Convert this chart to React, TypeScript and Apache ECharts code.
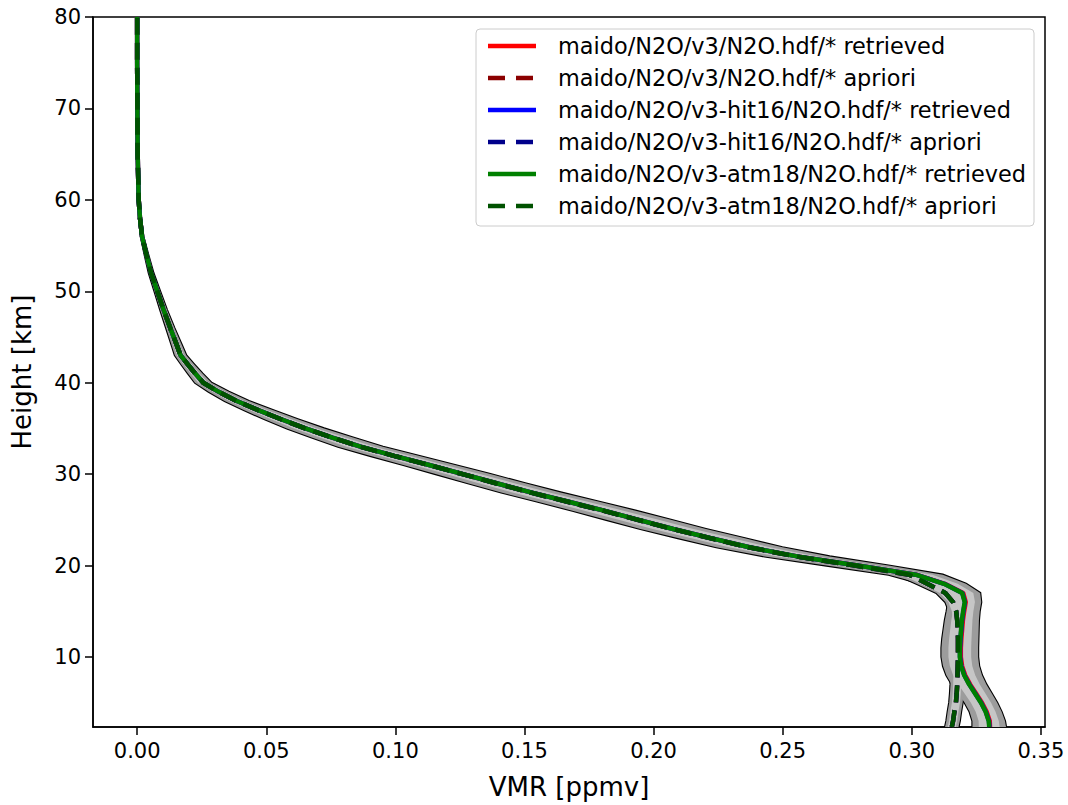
import React, { useEffect, useRef } from 'react';
import * as echarts from 'echarts';

// Heights [km]
const heights = [2.34, 3, 4, 5, 6, 7, 8, 9, 10, 11, 12, 13, 14, 15, 16, 17, 18, 19, 20, 21, 22, 23, 24, 25, 26, 27, 28, 29, 30, 31, 32, 33, 34, 35, 36, 37, 38, 39, 40, 41, 42, 43, 44, 46, 48, 50, 52, 54, 56, 58, 60, 65, 70, 75, 80];

// a priori VMR [ppmv] (same for all three runs)
const apriori = [0.3155, 0.3160, 0.3165, 0.3171, 0.3174, 0.3176, 0.3177, 0.3178, 0.3179, 0.3179, 0.3179, 0.3178, 0.3176, 0.3172, 0.3160, 0.3130, 0.3060, 0.2990, 0.2780, 0.2550, 0.2367, 0.2218, 0.2072, 0.1938, 0.1804, 0.1663, 0.1521, 0.1389, 0.1260, 0.1129, 0.0994, 0.0863, 0.0754, 0.0650, 0.0557, 0.0468, 0.0385, 0.0315, 0.0256, 0.0225, 0.0196, 0.0168, 0.0155, 0.0128, 0.0102, 0.0078, 0.0054, 0.0036, 0.0019, 0.0011, 0.0006, 0.0002, 0.0001, 0.0000, 0.0000];

// retrieved VMR [ppmv]
const retV3 = [0.3303, 0.3302, 0.3290, 0.3272, 0.3249, 0.3226, 0.3207, 0.3195, 0.3190, 0.3190, 0.3192, 0.3195, 0.3198, 0.3203, 0.3209, 0.3199, 0.3128, 0.3017, 0.2792, 0.2557, 0.2371, 0.2222, 0.2076, 0.1942, 0.1808, 0.1667, 0.1525, 0.1392, 0.1262, 0.1131, 0.0996, 0.0865, 0.0756, 0.0652, 0.0558, 0.0469, 0.0386, 0.0316, 0.0256, 0.0225, 0.0196, 0.0168, 0.0155, 0.0128, 0.0102, 0.0078, 0.0054, 0.0036, 0.0019, 0.0011, 0.0006, 0.0002, 0.0001, 0.0000, 0.0000];
const retHit16 = [0.3301, 0.3299, 0.3287, 0.3269, 0.3246, 0.3223, 0.3204, 0.3192, 0.3187, 0.3187, 0.3189, 0.3192, 0.3195, 0.3200, 0.3206, 0.3196, 0.3126, 0.3016, 0.2791, 0.2556, 0.2371, 0.2222, 0.2076, 0.1942, 0.1808, 0.1667, 0.1525, 0.1392, 0.1262, 0.1131, 0.0996, 0.0865, 0.0756, 0.0652, 0.0558, 0.0469, 0.0386, 0.0316, 0.0256, 0.0225, 0.0196, 0.0168, 0.0155, 0.0128, 0.0102, 0.0078, 0.0054, 0.0036, 0.0019, 0.0011, 0.0006, 0.0002, 0.0001, 0.0000, 0.0000];
const retAtm18 = [0.3300, 0.3298, 0.3286, 0.3268, 0.3245, 0.3222, 0.3203, 0.3191, 0.3186, 0.3186, 0.3188, 0.3191, 0.3194, 0.3199, 0.3205, 0.3195, 0.3125, 0.3015, 0.2790, 0.2556, 0.2371, 0.2222, 0.2076, 0.1942, 0.1808, 0.1667, 0.1525, 0.1392, 0.1262, 0.1131, 0.0996, 0.0865, 0.0756, 0.0652, 0.0558, 0.0469, 0.0386, 0.0316, 0.0256, 0.0225, 0.0196, 0.0168, 0.0155, 0.0128, 0.0102, 0.0078, 0.0054, 0.0036, 0.0019, 0.0011, 0.0006, 0.0002, 0.0001, 0.0000, 0.0000];

// total error (half width) of retrieved profile and of a priori [ppmv]
const retErr = [0.0065, 0.0063, 0.0062, 0.0063, 0.0065, 0.0067, 0.0069, 0.0070, 0.0071, 0.0071, 0.0070, 0.0068, 0.0066, 0.0064, 0.0064, 0.0070, 0.0085, 0.0105, 0.0120, 0.0126, 0.0128, 0.0128, 0.0127, 0.0125, 0.0122, 0.0119, 0.0115, 0.0111, 0.0106, 0.0100, 0.0094, 0.0087, 0.0080, 0.0072, 0.0064, 0.0056, 0.0047, 0.0039, 0.0032, 0.0028, 0.0025, 0.0022, 0.0020, 0.0016, 0.0013, 0.0011, 0.0009, 0.0007, 0.0005, 0.0004, 0.0003, 0.0002, 0.0001, 0.0001, 0.0001];
const aprErr = [0.0026, 0.0026, 0.0026, 0.0026, 0.0026, 0.0026, 0.0026, 0.0027, 0.0027, 0.0027, 0.0027, 0.0027, 0.0027, 0.0028, 0.0030, 0.0035, 0.0042, 0.0050, 0.0058, 0.0062, 0.0064, 0.0065, 0.0065, 0.0064, 0.0063, 0.0062, 0.0060, 0.0058, 0.0056, 0.0053, 0.0050, 0.0046, 0.0042, 0.0038, 0.0034, 0.0029, 0.0025, 0.0020, 0.0017, 0.0015, 0.0013, 0.0012, 0.0011, 0.0009, 0.0007, 0.0006, 0.0005, 0.0004, 0.0003, 0.0002, 0.0002, 0.0001, 0.0001, 0.0000, 0.0000];

const xTicks = [0, 0.05, 0.1, 0.15, 0.2, 0.25, 0.3, 0.35];
const yTicks = [10, 20, 30, 40, 50, 60, 70, 80];

const seriesDefs = [
  { name: 'maido/N2O/v3/N2O.hdf/* retrieved', values: retV3, color: '#ff0000', dashed: false },
  { name: 'maido/N2O/v3/N2O.hdf/* apriori', values: apriori, color: '#8b0000', dashed: true },
  { name: 'maido/N2O/v3-hit16/N2O.hdf/* retrieved', values: retHit16, color: '#0000ff', dashed: false },
  { name: 'maido/N2O/v3-hit16/N2O.hdf/* apriori', values: apriori, color: '#00008b', dashed: true },
  { name: 'maido/N2O/v3-atm18/N2O.hdf/* retrieved', values: retAtm18, color: '#008000', dashed: false },
  { name: 'maido/N2O/v3-atm18/N2O.hdf/* apriori', values: apriori, color: '#005200', dashed: true },
];

const FONT = 'DejaVu Sans';

export default function App() {
  const ref = useRef<HTMLDivElement>(null);
  useEffect(() => {
    document.body.style.margin = '0';
    if (!ref.current) return;
    const chart = echarts.init(ref.current, null, { renderer: 'svg' });

    const bandPoints = (api: any, center: number[], err: number[], scale: number) => {
      const pts: number[][] = [];
      for (let i = 0; i < heights.length; i++) pts.push(api.coord([center[i] - err[i] * scale, heights[i]]));
      for (let i = heights.length - 1; i >= 0; i--) pts.push(api.coord([center[i] + err[i] * scale, heights[i]]));
      return pts;
    };

    const bandSeries = {
      type: 'custom',
      coordinateSystem: 'cartesian2d',
      silent: true,
      clip: true,
      data: [[0, 40]],
      renderItem: (params: any, api: any) => {
        const rOuter = bandPoints(api, retAtm18, retErr, 1);
        const aOuter = bandPoints(api, apriori, aprErr, 1);
        const rInner = bandPoints(api, retAtm18, retErr, 0.62);
        const aInner = bandPoints(api, apriori, aprErr, 0.6);
        return {
          type: 'group',
          children: [
            { type: 'polygon', shape: { points: rOuter }, style: { fill: '#9c9c9c', stroke: '#000', lineWidth: 2.2 } },
            { type: 'polygon', shape: { points: aOuter }, style: { fill: '#9c9c9c', stroke: '#000', lineWidth: 2.2 } },
            { type: 'polygon', shape: { points: rOuter }, style: { fill: '#9c9c9c', stroke: null } },
            { type: 'polygon', shape: { points: aOuter }, style: { fill: '#9c9c9c', stroke: null } },
            { type: 'polygon', shape: { points: rInner }, style: { fill: '#c6c6c6', stroke: null } },
            { type: 'polygon', shape: { points: aInner }, style: { fill: '#c6c6c6', stroke: null } },
          ],
        };
      },
      z: 1,
    };

    const lineSeries = seriesDefs.map((s) => ({
      name: s.name,
      type: 'line',
      data: s.values.map((v, i) => [v, heights[i]]),
      symbol: 'none',
      showSymbol: false,
      silent: true,
      color: s.color,
      lineStyle: { color: s.color, width: 4.5, type: s.dashed ? [17, 8] : 'solid', cap: 'butt' },
      emphasis: { disabled: true },
      z: 2,
    }));

    // legend drawn as graphic elements
    const legendLeft = 476;
    const legendTop = 29;
    const rowY0 = 46;
    const rowStep = 32;
    const legendChildren: any[] = [
      {
        type: 'rect',
        shape: { x: legendLeft, y: legendTop, width: 558, height: 197, r: 4 },
        style: { fill: 'rgba(255,255,255,0.8)', stroke: '#cccccc', lineWidth: 1 },
      },
    ];
    seriesDefs.forEach((s, i) => {
      const y = rowY0 + rowStep * i;
      legendChildren.push({
        type: 'line',
        shape: { x1: 488, y1: y, x2: 536, y2: y },
        style: { stroke: s.color, lineWidth: 4.5, lineDash: s.dashed ? [17, 11] : null, lineCap: 'butt' },
      });
      legendChildren.push({
        type: 'text',
        x: 558,
        y: y,
        style: { text: s.name, fill: '#000', font: `22.4px "${FONT}"`, textVerticalAlign: 'middle', verticalAlign: 'middle', align: 'left' },
      });
    });

    chart.setOption({
      animation: false,
      grid: { left: 93, right: 23, top: 17, bottom: 78, show: true, borderColor: '#000', borderWidth: 1.5, backgroundColor: 'transparent' },
      xAxis: {
        type: 'value',
        min: -0.0171,
        max: 0.3516,
        name: 'VMR [ppmv]',
        nameLocation: 'middle',
        nameGap: 47,
        nameTextStyle: { fontFamily: FONT, fontSize: 26, color: '#000' },
        axisLine: { show: true, onZero: false, lineStyle: { color: '#000', width: 1.5 } },
        axisTick: { show: true, length: 8, lineStyle: { color: '#000', width: 1.5 }, customValues: xTicks },
        axisLabel: { fontFamily: FONT, fontSize: 21, color: '#000', margin: 13, customValues: xTicks, formatter: (v: number) => v.toFixed(2) },
        splitLine: { show: false },
      },
      yAxis: {
        type: 'value',
        min: 2.34,
        max: 80,
        name: 'Height [km]',
        nameLocation: 'middle',
        nameGap: 58,
        nameTextStyle: { fontFamily: FONT, fontSize: 26, color: '#000' },
        axisLine: { show: true, onZero: false, lineStyle: { color: '#000', width: 1.5 } },
        axisTick: { show: true, length: 8, lineStyle: { color: '#000', width: 1.5 }, customValues: yTicks },
        axisLabel: { fontFamily: FONT, fontSize: 21, color: '#000', margin: 12, customValues: yTicks, formatter: (v: number) => String(Math.round(v)) },
        splitLine: { show: false },
      },
      graphic: [{ type: 'group', z: 100, children: legendChildren }],
      series: [bandSeries, ...lineSeries],
    });
    return () => chart.dispose();
  }, []);
  return <div ref={ref} style={{ width: 1068, height: 805 }} />;
}
